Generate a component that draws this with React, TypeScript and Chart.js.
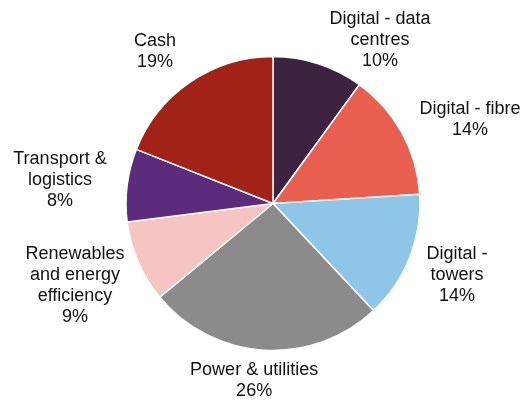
import React, { useEffect, useRef } from "react";
import { Chart, registerables } from "chart.js";

Chart.register(...registerables);

const categories: string[][] = [
  ["Digital - data", "centres"],
  ["Digital - fibre"],
  ["Digital -", "towers"],
  ["Power & utilities"],
  ["Renewables", "and energy", "efficiency"],
  ["Transport &", "logistics"],
  ["Cash"],
];
const values: number[] = [10, 14, 14, 26, 9, 8, 19];
const colors: string[] = ["#3D2341", "#E85E4F", "#8FC5E7", "#8B8B8B", "#F6C4C1", "#5D2B7C", "#A32217"];

// label layout: angle nudge (deg) from slice middle and distance as ratio of radius
const labelNudgeDeg: number[] = [15.2, 5.6, -0.4, 2.5, 1.0, -0.9, -3.7];
const labelDistRatio: number[] = [1.33, 1.458, 1.343, 1.208, 1.457, 1.458, 1.306];

const FONT = '18px "Liberation Sans", Arial, sans-serif';
const LINE_H = 21;

const outsideLabels = {
  id: "outsideLabels",
  afterDatasetsDraw(chart: any) {
    const ctx = chart.ctx;
    const meta = chart.getDatasetMeta(0);
    ctx.save();
    ctx.font = FONT;
    ctx.fillStyle = "#111";
    ctx.textAlign = "center";
    ctx.textBaseline = "middle";
    meta.data.forEach((arc: any, i: number) => {
      const { x, y, startAngle, endAngle, outerRadius } = arc.getProps(
        ["x", "y", "startAngle", "endAngle", "outerRadius"],
        true
      );
      const mid = (startAngle + endAngle) / 2 + (labelNudgeDeg[i] * Math.PI) / 180;
      const d = outerRadius * labelDistRatio[i];
      const cx = x + Math.cos(mid) * d;
      const cy = y + Math.sin(mid) * d;
      const lines = [...categories[i], `${values[i]}%`];
      const n = lines.length;
      lines.forEach((t, k) => {
        ctx.fillText(t, cx, cy + (k - (n - 1) / 2) * LINE_H);
      });
    });
    ctx.restore();
  },
};

export default function App() {
  const ref = useRef<HTMLCanvasElement>(null);
  useEffect(() => {
    if (!ref.current) return;
    const chart = new Chart(ref.current, {
      type: "pie",
      data: {
        labels: categories,
        datasets: [
          {
            data: values,
            backgroundColor: colors,
            borderColor: "#ffffff",
            borderWidth: 1.5,
          },
        ],
      },
      options: {
        responsive: false,
        animation: false,
        radius: 147,
        layout: { padding: { left: 60, right: 42, top: 56, bottom: 49 } },
        plugins: {
          legend: { display: false },
          tooltip: { enabled: false },
        },
      } as any,
      plugins: [outsideLabels],
    });
    return () => chart.destroy();
  }, []);
  return (
    <div style={{ position: "fixed", left: 0, top: 0, width: 528, height: 400, background: "#fff" }}>
      <canvas ref={ref} width={528} height={400} style={{ width: 528, height: 400, display: "block" }} />
    </div>
  );
}
